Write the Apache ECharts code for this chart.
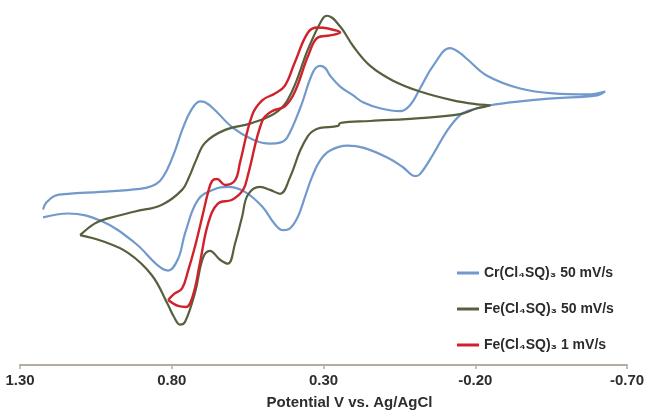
<!DOCTYPE html>
<html>
<head>
<meta charset="utf-8">
<script src="https://cdn.jsdelivr.net/npm/echarts@6/dist/echarts.min.js"></script>
<style>
html,body{margin:0;padding:0;background:#fff;}
#chart{width:651px;height:415px;}
</style>
</head>
<body>
<div id="chart"></div>
<script>
// Potential (V vs Ag/AgCl) and current (arbitrary units)
var seriesNames = ['Cr(Cl\u2084SQ)\u2083 50 mV/s', 'Fe(Cl\u2084SQ)\u2083 50 mV/s', 'Fe(Cl\u2084SQ)\u2083 1 mV/s'];
var tickValues = [1.30, 0.80, 0.30, -0.20, -0.70];

var crPotential = [1.224,1.214,1.185,1.142,1.036,0.905,0.865,0.839,0.816,0.789,0.763,0.736,0.707,0.690,0.664,0.598,0.532,0.476,0.443,0.420,0.377,0.334,0.311,0.295,0.278,0.245,0.202,0.170,0.114,0.048,0.015,-0.018,-0.061,-0.117,-0.150,-0.173,-0.239,-0.348,-0.457,-0.569,-0.628,
  -0.602,-0.457,-0.348,-0.249,-0.183,-0.150,-0.107,-0.061,-0.018,-0.002,0.038,0.090,0.170,0.222,0.278,0.311,0.338,0.361,0.384,0.410,0.433,0.460,0.502,0.559,0.615,0.657,0.713,0.756,0.779,0.812,0.845,0.921,1.030,1.142,1.224];
var crCurrent = [8.7,9.4,10.1,10.3,10.5,10.8,11.1,11.6,12.7,14.7,17.0,18.8,19.7,19.6,19.0,17.0,15.8,15.4,15.5,16.0,19.0,22.7,23.3,23.1,22.3,21.2,20.3,19.6,19.0,18.7,19.3,21.0,23.3,25.1,24.6,24.0,22.3,21.0,20.5,20.4,20.7,
  20.3,20.0,19.7,19.3,18.8,18.3,16.7,14.3,12.3,12.1,13.0,14.0,15.0,15.2,14.7,13.7,12.0,10.0,8.0,6.8,6.6,7.2,9.0,10.5,11.0,10.8,9.7,6.3,3.7,2.5,3.0,5.3,7.5,8.3,7.9];

var fe50Potential = [1.102,1.053,1.010,0.921,0.832,0.766,0.743,0.720,0.690,0.624,0.535,0.450,0.404,0.351,0.305,0.288,0.245,0.202,0.146,0.071,-0.018,-0.127,-0.206,-0.249,
  -0.206,-0.150,-0.018,0.146,0.245,0.252,0.311,0.334,0.351,0.377,0.410,0.443,0.476,0.509,0.549,0.568,0.591,0.615,0.641,0.674,0.697,0.723,0.756,0.773,0.793,0.812,0.865,0.944,1.030,1.102];
var fe50Current = [6.1,7.3,7.8,8.5,9.2,10.7,12.0,13.7,15.5,16.8,17.5,18.7,20.7,25.0,28.0,28.4,27.3,25.3,23.3,21.8,20.7,19.8,19.4,19.3,
  19.0,18.4,18.0,17.7,17.5,17.2,17.0,16.7,16.2,14.7,12.0,10.3,10.7,11.0,10.2,8.0,5.3,3.2,3.6,4.5,3.8,0.3,-2.7,-3.0,-2.2,-1.0,2.0,4.3,5.5,6.1];

var fe1Potential = [0.812,0.793,0.766,0.746,0.723,0.697,0.680,0.667,0.651,0.624,0.591,0.575,0.535,0.502,0.460,0.427,0.394,0.351,0.318,0.285,0.245,
  0.278,0.318,0.351,0.394,0.427,0.470,0.502,0.549,0.565,0.601,0.648,0.680,0.707,0.730,0.753,0.779,0.812];
var fe1Current = [-0.5,0.1,0.7,2.5,5.0,8.3,10.5,11.6,11.8,11.2,11.7,13.5,18.3,19.8,20.5,21.3,23.7,26.7,27.2,27.1,26.7,
  26.4,26.2,24.3,20.7,19.2,18.7,17.7,12.2,10.7,9.7,9.3,7.3,3.3,0.0,-1.2,-1.1,-0.5];

function pairs(xs, ys) { return xs.map(function (x, i) { return [x, ys[i]]; }); }

var colors = ['#7199cc', '#56603f', '#d0222b'];
var chart = echarts.init(document.getElementById('chart'), null, {renderer: 'canvas'});
chart.setOption({
  animation: false,
  backgroundColor: '#ffffff',
  color: colors,
  grid: {left: 20, right: 24, top: 0, bottom: 44},
  legend: {
    orient: 'vertical',
    left: 452,
    top: 261,
    itemGap: 22,
    itemWidth: 22,
    itemHeight: 3,
    icon: 'rect',
    data: seriesNames,
    textStyle: {fontFamily: 'Liberation Sans', fontWeight: 'bold', fontSize: 14, color: '#2b2b2b'}
  },
  xAxis: {
    type: 'value',
    inverse: true,
    min: -0.70,
    max: 1.30,
    interval: 0.5,
    splitLine: {show: false},
    axisLine: {onZero: false, lineStyle: {color: '#b3aca2', width: 2}},
    axisTick: {show: true, length: 4, lineStyle: {color: '#b3aca2', width: 1.5}},
    axisLabel: {
      margin: 8,
      fontFamily: 'Liberation Sans', fontWeight: 'bold', fontSize: 15, color: '#2e2e2e',
      formatter: function (v) { return v.toFixed(2); }
    },
    name: 'Potential V vs. Ag/AgCl',
    nameLocation: 'middle',
    nameGap: 30,
    nameTextStyle: {fontFamily: 'Liberation Sans', fontWeight: 'bold', fontSize: 15, color: '#2e2e2e', padding: [0, 0, 0, 52]}
  },
  yAxis: {type: 'value', min: -7.1, max: 30, show: false, splitLine: {show: false}},
  series: [
    {name: seriesNames[0], type: 'line', data: pairs(crPotential, crCurrent), showSymbol: false, symbol: 'none', smooth: 0.4, lineStyle: {width: 2.2, color: colors[0]}},
    {name: seriesNames[1], type: 'line', data: pairs(fe50Potential, fe50Current), showSymbol: false, symbol: 'none', smooth: 0.4, lineStyle: {width: 2.2, color: colors[1]}},
    {name: seriesNames[2], type: 'line', data: pairs(fe1Potential, fe1Current), showSymbol: false, symbol: 'none', smooth: 0.4, lineStyle: {width: 2.4, color: colors[2]}}
  ]
});
</script>
</body>
</html>
